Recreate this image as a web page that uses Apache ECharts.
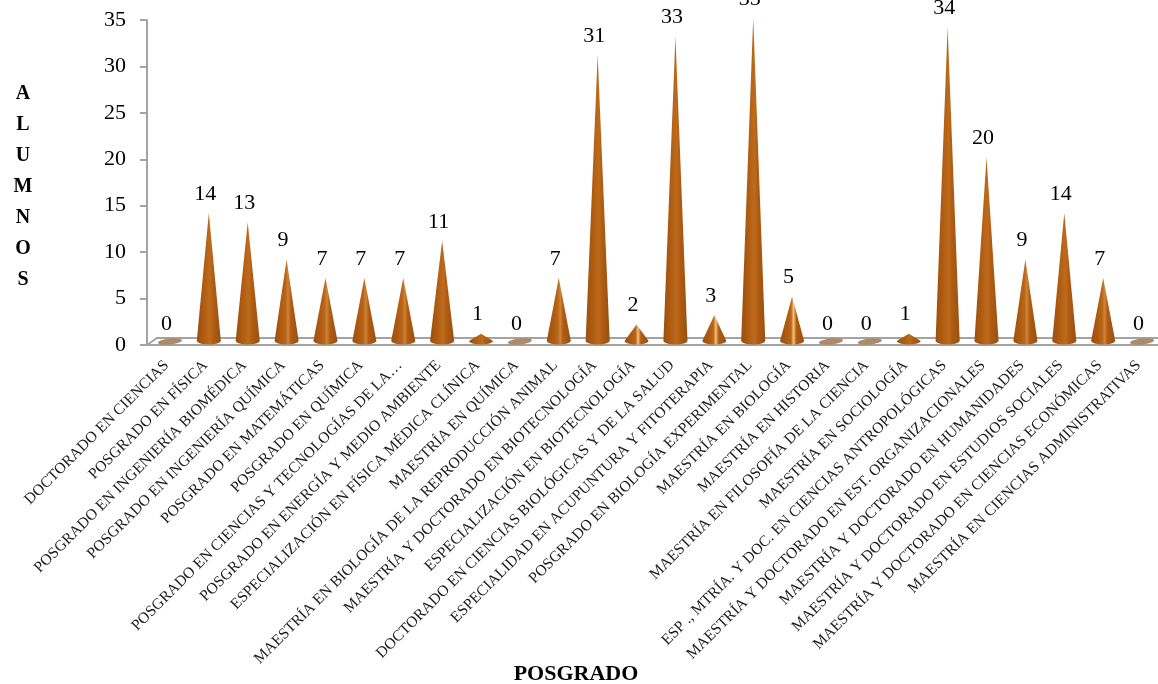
<!DOCTYPE html>
<html><head><meta charset="utf-8">
<style>html,body{margin:0;padding:0;background:#fff}#c{width:1158px;height:684px}</style>
<script src="https://cdn.jsdelivr.net/npm/echarts@6/dist/echarts.min.js"></script>
</head><body><div id="c"></div>
<script>
const categories = ['DOCTORADO EN CIENCIAS','POSGRADO EN FÍSICA','POSGRADO EN INGENIERÍA BIOMÉDICA','POSGRADO EN INGENIERÍA QUÍMICA','POSGRADO EN MATEMÁTICAS','POSGRADO EN QUÍMICA','POSGRADO EN CIENCIAS Y TECNOLOGÍAS DE LA…','POSGRADO EN ENERGÍA Y MEDIO AMBIENTE','ESPECIALIZACIÓN EN FÍSICA MÉDICA CLÍNICA','MAESTRÍA EN QUÍMICA','MAESTRÍA EN BIOLOGÍA DE LA REPRODUCCIÓN ANIMAL','MAESTRÍA Y DOCTORADO EN BIOTECNOLOGÍA','ESPECIALIZACIÓN EN BIOTECNOLOGÍA','DOCTORADO EN CIENCIAS BIOLÓGICAS Y DE LA SALUD','ESPECIALIDAD EN ACUPUNTURA Y FITOTERAPIA','POSGRADO EN BIOLOGÍA EXPERIMENTAL','MAESTRÍA EN BIOLOGÍA','MAESTRÍA EN HISTORIA','MAESTRÍA EN FILOSOFÍA DE LA CIENCIA','MAESTRÍA EN SOCIOLOGÍA','ESP ., MTRÍA. Y DOC. EN CIENCIAS ANTROPOLÓGICAS','MAESTRÍA Y DOCTORADO EN EST. ORGANIZACIONALES','MAESTRÍA Y DOCTORADO EN HUMANIDADES','MAESTRÍA Y DOCTORADO EN ESTUDIOS SOCIALES','MAESTRÍA Y DOCTORADO EN CIENCIAS ECONÓMICAS','MAESTRÍA EN CIENCIAS ADMINISTRATIVAS'];
const alumnos = [0,14,13,9,7,7,7,11,1,0,7,31,2,33,3,35,5,0,0,1,34,20,9,14,7,0];
const FONT = '"Liberation Serif","DejaVu Serif",serif';
const chart = echarts.init(document.getElementById('c'), null, {renderer:'canvas'});
const GRAY = '#a3a3a3';

function coneFill(h){
  const mid = h>=2 && h<=5 ? '#f2c27a' : (h>=7 && h<=9 ? '#cf8438' : '#bd6a1c');
  return new echarts.graphic.LinearGradient(0,0,1,0,[
    {offset:0,color:'#9a4f0e'},
    {offset:.25,color:'#ad5a10'},
    {offset:.46,color:'#b8661a'},
    {offset:.56,color:mid},
    {offset:.68,color:'#b15c12'},
    {offset:1,color:'#98500f'}]);
}
function renderItem(params, api){
  const idx = api.value(0), v = api.value(1);
  const band = api.size([1,0])[0];
  const base = api.coord([idx,0]);
  const top = api.coord([idx,v]);
  const cx = base[0] + band*0.09, cy = base[1]-4, rx = band*0.31;
  if(v===0){
    return {type:'ellipse',shape:{cx:0,cy:0,rx,ry:3},x:cx,y:base[1]-3.5,rotation:0.1,style:{fill:'#ae8a68'}};
  }
  const ry = 3.5;
  return {type:'path',shape:{pathData:`M${cx-rx} ${cy}L${cx} ${top[1]-2}L${cx+rx} ${cy}A${rx} ${ry} 0 0 1 ${cx-rx} ${cy}Z`,layout:'none'},
     style:{fill:coneFill(v)}};
}
function floorItem(params, api){
  const cs = params.coordSys;
  const y = api.coord([0,0])[1], d = 7, dx = 10;
  const x0 = cs.x, x1 = cs.x+cs.width;
  return {type:'polyline',silent:true,shape:{points:[[x0,y],[x0+dx,y-d],[x1,y-d]]},style:{fill:null,stroke:GRAY,lineWidth:2}};
}
chart.setOption({
  animation:false,
  backgroundColor:'#fff',
  title:[
    {text:'POSGRADO',left:571,top:658,textAlign:'center',textStyle:{fontFamily:FONT,fontSize:22,fontWeight:'bold',color:'#000'}},
    {text:'A\nL\nU\nM\nN\nO\nS',left:18,top:73,textAlign:'center',textStyle:{fontFamily:FONT,fontSize:20,fontWeight:'bold',color:'#000',lineHeight:31,align:'center'}}
  ],
  grid:{left:147,right:0,top:20,bottom:339},
  xAxis:{type:'category',data:categories,boundaryGap:true,
    axisLine:{lineStyle:{color:GRAY,width:2}},
    axisTick:{alignWithLabel:false,length:5,lineStyle:{color:GRAY,width:1}},
    axisLabel:{interval:0,rotate:45,margin:18,fontFamily:FONT,fontSize:15.5,color:'#1a1a1a',hideOverlap:false}},
  yAxis:{type:'value',min:0,max:35,interval:5,
    splitLine:{show:false},
    axisLine:{show:true,lineStyle:{color:GRAY,width:2}},
    axisTick:{show:true,length:7,lineStyle:{color:GRAY,width:2}},
    axisLabel:{margin:21,fontFamily:FONT,fontSize:22,color:'#000',padding:[17,0,0,0]}},
  series:[
    {type:'custom',renderItem:floorItem,data:[[0,0]],clip:false,silent:true,z:1,encode:{x:0,y:1}},
    {type:'custom',renderItem,clip:false,z:2,encode:{x:0,y:1},
     data:alumnos.map((v,i)=>[i,v])},
    {type:'scatter',symbolSize:0,z:3,silent:true,clip:false,data:alumnos.map((v,i)=>[i,v]),
     itemStyle:{opacity:1},
     label:{show:true,position:'top',distance:10,formatter:p=>String(p.value[1]),fontFamily:FONT,fontSize:22,color:'#000',opacity:1}}
  ]
});
</script></body></html>
